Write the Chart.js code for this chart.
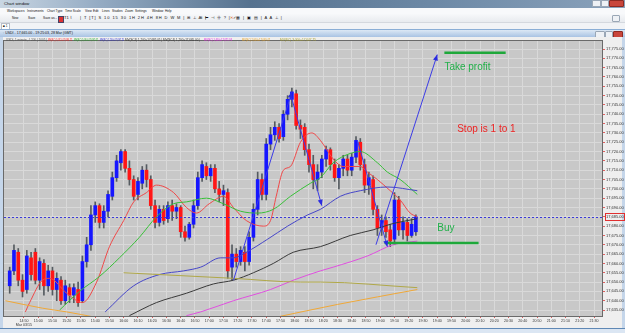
<!DOCTYPE html>
<html>
<head>
<meta charset="utf-8">
<title>Chart window</title>
<script src="https://cdn.jsdelivr.net/npm/chart.js@4/dist/chart.umd.min.js"></script>
<style>
  body { margin: 0; width: 625px; height: 333px; overflow: hidden; position: relative; background: #eef2f7; font-family: "Liberation Sans", Arial, sans-serif; }
  .row { position: absolute; left: 0; width: 625px; white-space: nowrap; font-size: 3.2px; line-height: 1; color: #111; }
  .row span { position: absolute; }
  #titlebar { top: 0; height: 8px; font-size: 4.2px; background: linear-gradient(90deg, #c9d6e3 0, #94abc3 16%, #56728f 40%, #6d89a6 70%, #8aa2bb 100%); }
  #menubar { top: 8px; height: 6px; background: #f8f9fb; }
  #toolbar { top: 14px; height: 8px; background: linear-gradient(#f7f8fa, #e8ebef); border-bottom: 1px solid #d4d8de; }
  #tabs { top: 23px; height: 6px; background: #f1f3f6; }
  #subtitle { top: 29px; height: 8px; font-size: 3.5px; background: linear-gradient(#dce8f5, #a9c3e3); border-top: 1px solid #8aaed6; box-sizing: border-box; }
  .btn { border: 1px solid #9aa7b6; border-radius: 1px; background: #eef1f5; height: 5px; }
  .red { background: #c9463b; border-color: #8e2a22; }
  #chartBox { position: absolute; left: 0; top: 37px; width: 625px; height: 296px; }
</style>
</head>
<body>
<div class="row" id="titlebar">
  <span style="left:4px;top:2px">Chart window</span>
  <span class="btn" style="left:592px;top:0;width:7px"></span>
  <span class="btn" style="left:601px;top:0;width:6px"></span>
  <span class="btn red" style="left:609px;top:0;width:13px"></span>
</div>
<div class="row" id="menubar">
  <span style="left:7px;top:1.5px">Workspaces</span>
  <span style="left:27px;top:1.5px">Instruments</span>
  <span style="left:47px;top:1.5px">Chart Type</span>
  <span style="left:65px;top:1.5px">Time Scale</span>
  <span style="left:85px;top:1.5px">View</span>
  <span style="left:93px;top:1.5px">Edit</span>
  <span style="left:102px;top:1.5px">Lines</span>
  <span style="left:112px;top:1.5px">Studies</span>
  <span style="left:125px;top:1.5px">Zoom</span>
  <span style="left:135px;top:1.5px">Settings</span>
  <span style="left:152px;top:1.5px">Window</span>
  <span style="left:165px;top:1.5px">Help</span>
</div>
<div class="row" id="toolbar">
  <span style="left:12px;top:2.5px">New</span>
  <span style="left:28px;top:2.5px">Save</span>
  <span style="left:43px;top:2.5px">Save as...</span>
  <span style="left:58px;top:1.5px;width:4px;height:5px;background:#d33;border:1px solid #446"></span>
  <span style="left:64px;top:2px;font-size:4px">T1 ⌇</span>
  <span style="left:80px;top:2px;font-size:4px;letter-spacing:0.9px">| T [T] S 10 15 30 1H 2H 4H 8H D W M | ⊞ ⊥ ⊟ |</span>
  <span style="left:198px;top:2px;font-size:4px;letter-spacing:0.9px">⚠ ⊢ ⊣ 卄 ? | ✓</span>
  <span style="left:230px;top:2px;font-size:4px;color:#e06010">✕</span>
  <span style="left:236px;top:2px;font-size:4px;letter-spacing:0.9px">▦ | ▣ ▤ | A A ⊥ |</span>
  <span class="btn" style="left:612px;top:1px;width:6px"></span>
</div>
<div class="row" id="tabs">
  <span style="left:1px;top:0;width:9px;height:6px;background:#fff;border:1px solid #b8bec8;border-bottom:none;box-sizing:border-box;padding-left:1px;padding-top:1px">■ 1</span>
</div>
<div class="row" id="subtitle">
  <span style="left:3px;top:2px">▫ USDI - 17,665.00 - 19:25:03, 28 Mar (GMT)</span>
  <span class="btn" style="left:595px;top:1px;width:8px"></span>
  <span class="btn" style="left:605px;top:1px;width:6px"></span>
  <span class="btn red" style="left:613px;top:1px;width:8px"></span>
</div>
<div id="chartBox"><canvas id="priceChart" width="625" height="296"></canvas></div>

<script>
// 3 minute candles, first one at 14:40
const firstCandle = '14:40';
const candleStep = 3;
const opens  = [17648,17656,17666,17651,17646,17663,17666,17651,17660,17648,17656,17646,17651,17640,17647,17643,17646,17640,17661,17670,
                17686,17691,17682,17688,17696,17706,17714,17720,17711,17705,17697,17703,17710,17705,17691,17682,17689,17684,17691,17688,
                17690,17677,17674,17681,17691,17706,17712,17707,17711,17700,17697,17698,17658,17665,17661,17666,17661,17674,17689,17705,
                17697,17724,17729,17733,17728,17740,17748,17751,17734,17733,17721,17713,17705,17709,17716,17721,17713,17706,17711,17716,
                17710,17717,17725,17713,17702,17705,17689,17679,17683,17678,17673,17694,17678,17682,17675,17677];
const highs  = [17658,17670,17668,17654,17667,17666,17668,17663,17662,17659,17658,17655,17653,17651,17649,17649,17650,17664,17674,17691,
                17693,17692,17691,17699,17709,17718,17721,17721,17715,17707,17706,17712,17713,17707,17694,17691,17691,17693,17694,17692,
                17691,17680,17682,17694,17709,17715,17714,17713,17713,17704,17702,17700,17670,17668,17669,17669,17677,17692,17709,17708,
                17727,17733,17736,17735,17742,17750,17754,17753,17737,17735,17724,17718,17713,17718,17723,17722,17716,17713,17718,17718,
                17719,17728,17727,17716,17709,17707,17691,17686,17685,17681,17698,17696,17685,17684,17684,17686];
const lows   = [17644,17654,17648,17642,17644,17651,17649,17646,17643,17645,17643,17640,17638,17638,17639,17639,17637,17639,17658,17667,
                17682,17679,17679,17685,17694,17704,17710,17709,17702,17694,17694,17700,17701,17689,17679,17680,17681,17682,17683,17684,
                17674,17672,17673,17679,17689,17704,17705,17704,17698,17693,17691,17652,17651,17658,17659,17656,17659,17672,17686,17694,
                17694,17721,17726,17725,17726,17737,17744,17732,17727,17718,17709,17700,17699,17706,17712,17710,17704,17700,17707,17707,
                17707,17714,17710,17698,17697,17686,17675,17675,17674,17669,17670,17675,17673,17672,17674,17675];
const closes = [17656,17667,17651,17645,17664,17654,17651,17661,17648,17656,17646,17652,17640,17648,17643,17647,17639,17661,17670,17686,
                17691,17682,17688,17697,17706,17715,17720,17711,17705,17696,17704,17710,17705,17691,17682,17689,17683,17691,17688,17690,
                17677,17674,17681,17691,17706,17713,17707,17711,17700,17697,17699,17656,17665,17661,17667,17661,17674,17689,17705,17697,
                17724,17729,17733,17727,17740,17748,17752,17734,17732,17721,17713,17705,17709,17716,17721,17713,17706,17711,17716,17710,
                17717,17726,17713,17702,17706,17689,17679,17683,17677,17672,17694,17678,17682,17675,17681,17685];

// moving averages
const ma21Times   = ['14:51','14:54','15:03','15:08','15:20','15:31','15:41','15:50','16:00','16:07','16:16','16:23','16:35','16:44','16:51','17:00','17:10','17:17',
                     '17:26','17:38','17:43','17:47','17:52','17:57','18:04','18:12','18:18','18:27','18:34','18:46','18:51','18:58','19:07','19:14','19:21','19:26'];
const ma21Values  = [17634,17639,17651,17652,17644,17639,17650,17669,17683,17693,17698,17702,17698,17690,17687,17692,17696,17690,
                     17683,17680,17683,17696,17710,17712,17725,17730,17726,17716,17712,17712,17709,17705,17699,17694,17687,17685];
const ma55Times   = ['15:15','15:29','15:43','15:57','16:11','16:23','16:35','16:44','16:58','17:10','17:22','17:34','17:45','17:57','18:11','18:18','18:27','18:39','18:46','18:58','19:05','19:14','19:26'];
const ma55Values  = [17635,17645,17653,17663,17674,17685,17692,17693,17695,17692,17688,17687,17689,17696,17703,17706,17714,17719,17720,17714,17709,17705,17697];
const ma89Times   = ['15:47','16:07','16:25','16:42','16:54','17:08','17:17','17:26','17:41','17:55','18:09','18:18','18:32','18:46','19:05','19:26'];
const ma89Values  = [17634,17648,17654,17656,17658,17663,17663,17666,17673,17680,17686,17689,17696,17699,17701,17699];
const ma144Times  = ['16:04','16:23','16:44','17:03','17:17','17:31','17:45','17:59','18:18','18:39','18:55','19:07','19:26'];
const ma144Values = [17632,17639,17644,17649,17651,17655,17660,17666,17669,17675,17678,17681,17684];
const ma233Times  = ['16:44','16:54','17:17','17:43','17:59','18:18','18:27','18:51','19:09','19:26'];
const ma233Values = [17632,17634,17640,17646,17651,17656,17658,17664,17670,17672];
const ma500Times  = ['14:37','15:03','15:20','15:41','16:40','17:46','18:30','19:26'];
const ma500Values = [17640,17636,17634,17631,null,17631,17638,17646];
const ma1000Times = ['16:00','17:17','18:04','18:18','19:26'];
const ma1000Values= [17655,17652,17650,17650,17647];

// drawn trend arrows and levels
const arrowLines = [
  { times: ['17:17','17:58'], values: [17651, 17752] },
  { times: ['17:57','18:19'], values: [17751, 17691] },
  { times: ['18:44','19:05'], values: [17726, 17669] },
  { times: ['18:57','19:40'], values: [17670, 17772] }
];
const levelLines = [
  { times: ['19:45','20:28'], values: [17773, 17773] },
  { times: ['19:03','20:09'], values: [17671, 17671] }
];
const notes = [
  { text: 'Take profit',    time: '19:45', value: 17764, color: '#22b04a' },
  { text: 'Stop is 1 to 1', time: '19:54', value: 17730.5, color: '#ee2424' },
  { text: 'Buy',            time: '19:40', value: 17677.5, color: '#22b04a' }
];

const xTickLabels = ['14:50','15:00','15:10','15:20','15:30','15:40','15:50','16:00','16:10','16:20','16:30','16:40','16:50','17:00',
                     '17:10','17:20','17:30','17:40','17:50','18:00','18:10','18:20','18:30','18:40','18:50','19:00','19:10','19:20',
                     '19:30','19:40','19:50','20:00','20:10','20:20','20:30','20:40','20:50','21:00','21:10','21:20','21:30'];
const dateLabel = 'Mar 03/15';
const yTickValues = [17635,17640,17645,17650,17655,17660,17665,17670,17675,17680,17685,17690,17695,17700,17705,
                     17710,17715,17720,17725,17730,17735,17740,17745,17750,17755,17760,17765,17770,17775];

const legendItems = [
  { text: 'USDI, 1 minute, # 200 | 1005 |', color: '#555', x: 6, w: 41 },
  { text: 'MV(SC) 1,032=17,684.72', color: '#ff2020', x: 48, w: 24 },
  { text: 'MV(SC) 1,064=17,692.67', color: '#22aa22', x: 74, w: 24 },
  { text: 'MV(SC) 1,200=17,697.25', color: '#2a2ad0', x: 100, w: 24 },
  { text: 'MV(SC4) 1,200=17,685.05 | MV(SC4) 1,200=17,665.00 |', color: '#333', x: 125, w: 75 },
  { text: 'MV(SC) 1,400=17,671.93', color: '#e020e0', x: 204, w: 28 },
  { text: 'MV(SC) 2,000=17,649.47', color: '#e8a020', x: 242, w: 28 },
  { text: 'MV(SC) 3,000=17,647.75', color: '#a8a030', x: 280, w: 36 }
];

const toMin = t => { const [h, m] = t.split(':').map(Number); return h * 60 + m; };
const fmtMin = v => Math.floor(v / 60) + ':' + String(Math.round(v % 60)).padStart(2, '0');
const series = (times, values) => times.map((t, i) => ({ x: toMin(t), y: values[i] }));
const candleTimes = opens.map((_, i) => toMin(firstCandle) + i * candleStep);
const lastClose = closes[closes.length - 1];

function maLine(times, values, color) {
  return { type: 'line', data: series(times, values), borderColor: color, borderWidth: 1, pointRadius: 0,
           cubicInterpolationMode: 'monotone', spanGaps: false, order: 3 };
}

const datasets = [
  { type: 'bar', data: candleTimes.map((t, i) => ({ x: t, y: [lows[i], highs[i]] })),
    backgroundColor: '#555b60', barThickness: 1, grouped: false, order: 5 },
  { type: 'bar', data: candleTimes.map((t, i) => ({ x: t, y: [opens[i], closes[i]] })),
    backgroundColor: closes.map((c, i) => c >= opens[i] ? '#1616ff' : '#ff1616'), barThickness: 3, grouped: false, order: 4 },
  maLine(ma1000Times, ma1000Values, '#b0a848'),
  maLine(ma500Times, ma500Values, '#f0a838'),
  maLine(ma233Times, ma233Values, '#e050e0'),
  maLine(ma144Times, ma144Values, '#3a3a3a'),
  maLine(ma89Times, ma89Values, '#4646c8'),
  maLine(ma55Times, ma55Values, '#38c038'),
  maLine(ma21Times, ma21Values, '#f04848')
];
arrowLines.forEach(a => datasets.push({ type: 'line', data: series(a.times, a.values), borderColor: '#3c3ce6',
  borderWidth: 1, pointRadius: 0, tension: 0, order: 1, arrow: true }));
levelLines.forEach(l => datasets.push({ type: 'line', data: series(l.times, l.values), borderColor: '#1ea83a',
  borderWidth: 2.5, pointRadius: 0, tension: 0, order: 1 }));

const screenPlugin = {
  id: 'screen',
  beforeDraw(chart) {
    const { ctx, chartArea: a, width, height } = chart;
    ctx.save();
    ctx.fillStyle = '#efefef';
    ctx.fillRect(0, 0, width, height);
    ctx.fillStyle = '#c8c8c8';
    ctx.fillRect(a.left, a.top, a.right - a.left, a.bottom - a.top);
    ctx.fillStyle = '#c5d6ea';
    ctx.fillRect(0, 0, 3, height);
    ctx.fillRect(622, 0, 3, height);
    ctx.fillStyle = '#5f88b5';
    ctx.fillRect(0, 291, width, 1);
    ctx.fillStyle = '#dbe6f3';
    ctx.fillRect(0, 292, width, 4);
    ctx.restore();
  },
  afterDatasetsDraw(chart) {
    const { ctx, chartArea: a, scales } = chart;
    ctx.save();
    // current price line
    const py = Math.round(scales.y.getPixelForValue(lastClose)) + 0.5;
    ctx.strokeStyle = '#3a3ad8';
    ctx.lineWidth = 1;
    ctx.setLineDash([2, 2]);
    ctx.beginPath(); ctx.moveTo(a.left, py); ctx.lineTo(a.right, py); ctx.stroke();
    ctx.setLineDash([]);
    // arrow heads
    chart.data.datasets.forEach((ds, i) => {
      if (!ds.arrow) return;
      const pts = chart.getDatasetMeta(i).data;
      const p0 = pts[0], p1 = pts[pts.length - 1];
      const ang = Math.atan2(p1.y - p0.y, p1.x - p0.x);
      ctx.fillStyle = '#2a2ae0';
      ctx.beginPath();
      ctx.moveTo(p1.x, p1.y);
      ctx.lineTo(p1.x - 6 * Math.cos(ang) + 2.5 * Math.sin(ang), p1.y - 6 * Math.sin(ang) - 2.5 * Math.cos(ang));
      ctx.lineTo(p1.x - 6 * Math.cos(ang) - 2.5 * Math.sin(ang), p1.y - 6 * Math.sin(ang) + 2.5 * Math.cos(ang));
      ctx.closePath(); ctx.fill();
    });
    // text notes
    ctx.font = '10px "Liberation Sans", Arial, sans-serif';
    ctx.textBaseline = 'alphabetic';
    notes.forEach(n => {
      ctx.fillStyle = n.color;
      ctx.fillText(n.text, scales.x.getPixelForValue(toMin(n.time)), scales.y.getPixelForValue(n.value));
    });
    ctx.restore();
  },
  afterDraw(chart) {
    const { ctx, chartArea: a, scales } = chart;
    ctx.save();
    ctx.strokeStyle = '#6a6a6a';
    ctx.lineWidth = 1;
    ctx.strokeRect(a.left - 0.5, a.top - 0.5, a.right - a.left + 1, a.bottom - a.top + 1);
    // highlighted last price on the axis
    const py = scales.y.getPixelForValue(lastClose);
    ctx.strokeStyle = '#e03030';
    ctx.strokeRect(a.right + 3.5, Math.round(py) - 3.5, 19, 7);
    // study legend row
    ctx.font = '4px "Liberation Sans", Arial, sans-serif';
    ctx.textBaseline = 'alphabetic';
    legendItems.forEach(l => { ctx.fillStyle = l.color; ctx.fillText(l.text, l.x, 3.5, l.w); });
    ctx.restore();
  }
};

new Chart(document.getElementById('priceChart'), {
  type: 'bar',
  data: { datasets },
  options: {
    responsive: false,
    animation: false,
    layout: { padding: { left: 4, top: 4, right: 0, bottom: 0 } },
    plugins: { legend: { display: false }, tooltip: { enabled: false } },
    scales: {
      x: {
        type: 'linear', min: 876, max: 1295.6, offset: false,
        afterBuildTicks: s => { s.ticks = xTickLabels.map(t => ({ value: toMin(t) })); },
        afterFit: s => { s.height = 17; },
        ticks: {
          autoSkip: false, maxRotation: 0, padding: 1, color: '#333',
          font: { size: 3.6, family: '"Liberation Sans", Arial, sans-serif' },
          callback: (v, i) => i === 0 ? [fmtMin(v), dateLabel] : fmtMin(v)
        },
        grid: { offset: false, color: '#d9d9d9', tickColor: '#e06060', tickLength: 2 },
        border: { display: false }
      },
      y: {
        position: 'right', min: 17631.8, max: 17779.3, beginAtZero: false,
        afterBuildTicks: s => { s.ticks = yTickValues.map(v => ({ value: v })); },
        afterFit: s => { s.width = 23; },
        ticks: {
          padding: 1, color: '#333',
          font: { size: 4, family: '"Liberation Sans", Arial, sans-serif' },
          callback: v => v.toLocaleString('en-US', { minimumFractionDigits: 2, maximumFractionDigits: 2 })
        },
        grid: { color: '#d9d9d9', tickColor: '#e06060', tickLength: 3 },
        border: { display: false }
      }
    }
  },
  plugins: [screenPlugin]
});
</script>
</body>
</html>
